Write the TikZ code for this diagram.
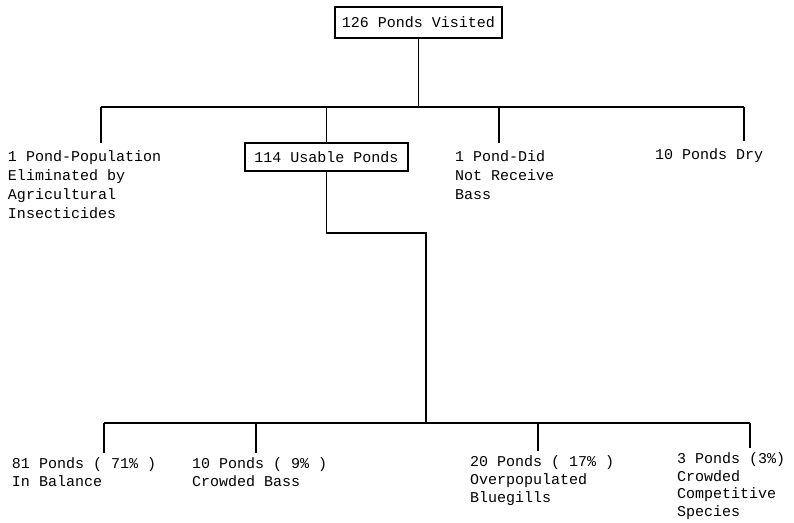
\documentclass[tikz,border=0pt]{standalone}
\usepackage{fontspec}
\setmainfont{Liberation Mono}
\usetikzlibrary{positioning}

\tikzset{
  box/.style={draw, line width=1.1pt, inner sep=0pt, font=\fontsize{15}{19}\selectfont},
  leaf/.style={anchor=north west, align=left, inner sep=0pt, outer xsep=0pt, outer ysep=8pt,
    font=\fontsize{15}{19}\selectfont},
  lowleaf/.style={leaf, outer ysep=5pt, font=\fontsize{15}{18}\selectfont},
  link/.style={line width=1.3pt}
}

\begin{document}
\begin{tikzpicture}[x=1pt, y=-1pt]
\useasboundingbox (0,0) rectangle (794,522);

% Top box
\node[box, minimum width=167, minimum height=31] (visited) at (418.5,22.5) {126 Ponds Visited};

% First split
\coordinate (topL) at (101,107);
\coordinate (topR) at (744,107);
\coordinate (topC) at (499,107);

\node[leaf] (eliminated) at (8,143) {1 Pond-Population\\Eliminated by\\Agricultural\\Insecticides};
\node[box, minimum width=163, minimum height=28] (usable) at (326.5,157) {114 Usable Ponds};
\node[leaf] (noBass) at (455,143) {1 Pond-Did\\Not Receive\\Bass};
\node[leaf] (dry) at (655,141) {10 Ponds Dry};

\draw[link] (visited.south) -- (visited.south |- topL);
\draw[link] (topL) -- (topR);
\draw[link] (topL) -- (topL |- eliminated.north);
\draw[link] (usable.north |- topL) -- (usable.north);
\draw[link] (topC) -- (topC |- noBass.north);
\draw[link] (topR) -- (topR |- dry.north);

% Second split
\coordinate (bend) at (426,233);
\coordinate (botL) at (104,423);
\coordinate (botR) at (750,423);
\coordinate (botB) at (256,423);
\coordinate (botC) at (538,423);

\node[lowleaf] (balance) at (12,453) {81 Ponds ( 71\% )\\In Balance};
\node[lowleaf] (crowdedBass) at (192,453) {10 Ponds ( 9\% )\\Crowded Bass};
\node[lowleaf] (bluegills) at (470,451) {20 Ponds ( 17\% )\\Overpopulated\\Bluegills};
\node[lowleaf, font=\fontsize{15}{17.5}\selectfont] (competitive) at (677,448) {3 Ponds (3\%)\\Crowded\\Competitive\\Species};

\draw[link] (usable.south) |- (bend) -- (bend |- botL);
\draw[link] (botL) -- (botR);
\draw[link] (botL) -- (botL |- balance.north);
\draw[link] (botB) -- (botB |- crowdedBass.north);
\draw[link] (botC) -- (botC |- bluegills.north);
\draw[link] (botR) -- (botR |- competitive.north);

\end{tikzpicture}
\end{document}
